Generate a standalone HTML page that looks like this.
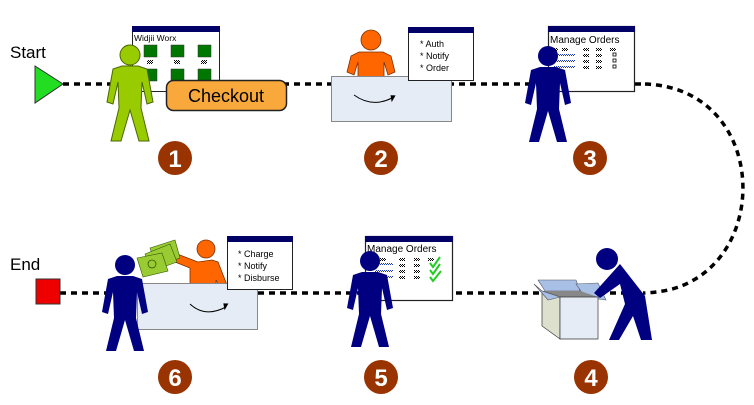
<!DOCTYPE html>
<html><head><meta charset="utf-8"><style>
html,body{margin:0;padding:0;background:#fff;}
svg{display:block;font-family:"Liberation Sans",sans-serif;}
</style></head><body>
<svg width="754" height="405" viewBox="0 0 754 405" xmlns="http://www.w3.org/2000/svg">
<defs>
<path id="p" d="M-8,0 L8,0 L17,3 L23,36 L17,38 L12,16 L11,42 L19,75 L9,75 L0,44 L-9,75 L-19,75 L-11,42 L-12,16 L-17,38 L-23,36 L-17,3 Z"/>
<pattern id="chk" width="2" height="2" patternUnits="userSpaceOnUse"><rect width="1" height="1" fill="#000"/><rect x="1" y="1" width="1" height="1" fill="#000"/></pattern>
<pattern id="chkb" width="2" height="2" patternUnits="userSpaceOnUse"><rect width="1" height="1" fill="#1a3ab0"/><rect x="1" y="1" width="1" height="1" fill="#1a3ab0"/></pattern>
</defs>

<!-- connectors -->
<g fill="none" stroke="#000" stroke-width="3.5" stroke-dasharray="6,5">
<line x1="63" y1="84" x2="645" y2="84"/>
<path d="M645,84 C760,88 772,240 690,282 C675,290 660,292 645,293"/>
<line x1="60" y1="293" x2="645" y2="293"/>
</g>

<!-- Start / End -->
<text x="10" y="58" font-size="17">Start</text>
<polygon points="35,66 35,103 63,84" fill="#22dd22" stroke="#333" stroke-width="1"/>
<text x="10" y="270" font-size="17">End</text>
<rect x="36" y="279" width="24" height="25" fill="#ee0000" stroke="#333" stroke-width="1"/>

<!-- Step 1 -->
<rect x="132.5" y="26.5" width="87" height="65" fill="#fff" stroke="#222"/>
<rect x="132" y="26" width="88" height="6" fill="#000066"/>
<text x="134" y="41" font-size="8.5">Widjii Worx</text>
<g fill="#007700" stroke="#333" stroke-width=".5">
<rect x="144" y="45" width="13" height="12"/><rect x="171" y="45" width="13" height="12"/><rect x="198" y="45" width="13" height="12"/>
<rect x="144" y="69" width="13" height="12"/><rect x="171" y="69" width="13" height="12"/><rect x="198" y="69" width="13" height="12"/>
</g>
<g fill="url(#chk)"><rect x="147" y="60" width="6" height="4"/><rect x="174" y="60" width="6" height="4"/><rect x="201" y="60" width="6" height="4"/></g>
<g transform="translate(130,66)"><use href="#p" fill="#99cc00" stroke="#4a6600" stroke-width="1"/></g>
<circle cx="130" cy="55" r="10" fill="#99cc00" stroke="#4a6600" stroke-width="1"/>
<rect x="166.5" y="80.5" width="120" height="30" rx="7" fill="#f9a93b" stroke="#222" stroke-width="1.5"/>
<text x="226" y="102" font-size="18" text-anchor="middle">Checkout</text>
<circle cx="175" cy="158" r="17" fill="#993300"/>
<text x="175" y="167" font-size="24" font-weight="bold" fill="#fff" text-anchor="middle">1</text>

<!-- Step 2 -->
<path d="M359,52 L383,52 L391,56 L395,72 L388,75 L384,62 L384,78 L358,78 L358,62 L354,75 L347,72 L351,56 Z" fill="#ff6600" stroke="#7a3000" stroke-width=".8"/>
<circle cx="371" cy="40" r="10" fill="#ff6600" stroke="#7a3000" stroke-width=".8"/>
<rect x="331.5" y="76.5" width="120" height="45" fill="#e6ecf6" stroke="#888"/>
<path d="M354,95 Q372,108 392,98" fill="none" stroke="#000" stroke-width="1"/>
<polygon points="391,95 391,102 396,96" fill="#000" transform="rotate(-10 392 98)"/>
<rect x="408.5" y="27.5" width="65" height="53" fill="#fff" stroke="#222"/>
<rect x="408" y="27" width="66" height="6" fill="#000066"/>
<g font-size="9"><text x="420" y="47">* Auth</text><text x="420" y="59">* Notify</text><text x="420" y="71">* Order</text></g>
<circle cx="381" cy="158" r="17" fill="#993300"/>
<text x="381" y="167" font-size="24" font-weight="bold" fill="#fff" text-anchor="middle">2</text>

<!-- Step 3 -->
<rect x="548.5" y="26.5" width="86" height="65" fill="#fff" stroke="#222" stroke-width="1.2"/>
<rect x="548" y="26" width="87" height="6" fill="#000066"/>
<text x="550" y="43" font-size="10">Manage Orders</text>
<g fill="url(#chk)"><rect x="552" y="48" width="6" height="3"/><rect x="562" y="48" width="6" height="3"/><rect x="583" y="48" width="6" height="3"/><rect x="596" y="48" width="6" height="3"/><rect x="610" y="48" width="6" height="3"/>
<rect x="583" y="54" width="6" height="3"/><rect x="596" y="54" width="6" height="3"/><rect x="583" y="60" width="6" height="3"/><rect x="596" y="60" width="6" height="3"/><rect x="583" y="66" width="6" height="3"/><rect x="596" y="66" width="6" height="3"/></g>
<g fill="url(#chkb)"><rect x="553" y="54" width="22" height="2"/><rect x="553" y="60" width="22" height="2"/><rect x="553" y="66" width="22" height="2"/></g>
<g fill="#fff" stroke="#000" stroke-width=".8"><rect x="613" y="53" width="3" height="3"/><rect x="613" y="59" width="3" height="3"/><rect x="613" y="65" width="3" height="3"/></g>
<g transform="translate(548,67)"><use href="#p" fill="#000080"/></g>
<circle cx="548" cy="56" r="10" fill="#000080"/>
<circle cx="590" cy="158" r="17" fill="#993300"/>
<text x="590" y="167" font-size="24" font-weight="bold" fill="#fff" text-anchor="middle">3</text>

<!-- Step 4 -->
<polygon points="538,280 576,280 580,291 545,291" fill="#a8c0e6" stroke="#556" stroke-width=".6"/>
<polygon points="576,284 598,283 606,300 585,297" fill="#a8c0e6" stroke="#556" stroke-width=".6"/>
<polygon points="542,291 580,291 598,297 560,297" fill="#888"/>
<polygon points="542,291 560,297 560,339 542,326" fill="#dde0cc" stroke="#333" stroke-width=".7"/>
<polygon points="560,297 598,297 598,339 560,339" fill="#e6ecf6" stroke="#333" stroke-width=".7"/>
<polygon points="534,284 542,291 560,297 548,300" fill="#a8c0e6" stroke="#556" stroke-width=".6"/>
<path d="M620,264 L645,296 L652,340 L641,340 L633,316 L619,340 L609,340 L625,304 L620,284 L600,298 L594,293 Z" fill="#000080"/>
<circle cx="607" cy="259" r="11" fill="#000080"/>
<circle cx="591" cy="377" r="17" fill="#993300"/>
<text x="591" y="386" font-size="24" font-weight="bold" fill="#fff" text-anchor="middle">4</text>

<!-- Step 5 -->
<rect x="365.5" y="236.5" width="87" height="64" fill="#fff" stroke="#222" stroke-width="1.2"/>
<rect x="365" y="236" width="88" height="6" fill="#000066"/>
<text x="367" y="252" font-size="10">Manage Orders</text>
<g fill="url(#chk)"><rect x="372" y="258" width="6" height="3"/><rect x="380" y="258" width="6" height="3"/><rect x="399" y="258" width="6" height="3"/><rect x="414" y="258" width="6" height="3"/><rect x="428" y="258" width="6" height="3"/>
<rect x="399" y="264" width="6" height="3"/><rect x="414" y="264" width="6" height="3"/><rect x="399" y="270" width="6" height="3"/><rect x="414" y="270" width="6" height="3"/><rect x="399" y="276" width="6" height="3"/><rect x="414" y="276" width="6" height="3"/></g>
<g fill="url(#chkb)"><rect x="375" y="263" width="18" height="2"/><rect x="375" y="270" width="18" height="2"/><rect x="375" y="276" width="18" height="2"/></g>
<g fill="none" stroke="#22cc22" stroke-width="2"><path d="M430,263 L433,267 L440,257"/><path d="M430,270 L433,274 L440,264"/><path d="M430,277 L433,281 L441,271"/></g>
<g transform="translate(370,272)"><use href="#p" fill="#000080"/></g>
<circle cx="370" cy="261" r="10" fill="#000080"/>
<circle cx="381" cy="377" r="17" fill="#993300"/>
<text x="381" y="386" font-size="24" font-weight="bold" fill="#fff" text-anchor="middle">5</text>

<!-- Step 6 -->
<path d="M198,262 L212,260 L218,262 L227,285 L220,288 L216,280 L216,290 L190,290 L190,268 L170,260 L172,252 Z" fill="#ff6600" stroke="#7a3000" stroke-width=".8"/>
<circle cx="206" cy="249" r="9" fill="#ff6600" stroke="#7a3000" stroke-width=".8"/>
<g stroke="#335500" stroke-width=".6" fill="#99cc33">
<polygon points="150,248 175,240 180,258 156,266" />
<polygon points="145,254 170,244 177,262 152,271"/>
<polygon points="137,258 162,253 168,271 143,277"/>
</g>
<circle cx="152" cy="264" r="4" fill="none" stroke="#335500" stroke-width=".8"/>
<rect x="137.5" y="283.5" width="120" height="46" fill="#e6ecf6" stroke="#888"/>
<path d="M190,304 Q205,318 226,307" fill="none" stroke="#000" stroke-width="1"/>
<polygon points="224,303 224,310 229,304" fill="#000" transform="rotate(-10 226 307)"/>
<rect x="227.5" y="236.5" width="65" height="53" fill="#fff" stroke="#222"/>
<rect x="227" y="236" width="66" height="6" fill="#000066"/>
<g font-size="9"><text x="238" y="257">* Charge</text><text x="238" y="269">* Notify</text><text x="238" y="281">* Disburse</text></g>
<g transform="translate(125,276)"><use href="#p" fill="#000080"/></g>
<circle cx="125" cy="265" r="10" fill="#000080"/>
<circle cx="175" cy="377" r="17" fill="#993300"/>
<text x="175" y="386" font-size="24" font-weight="bold" fill="#fff" text-anchor="middle">6</text>
</svg>
</body></html>
